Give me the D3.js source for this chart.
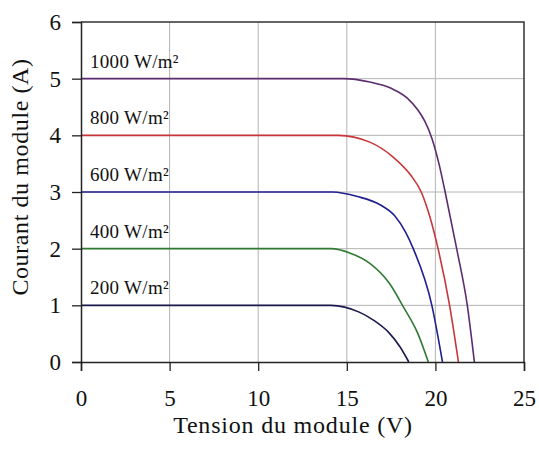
<!DOCTYPE html>
<html>
<head>
<meta charset="utf-8">
<script src="https://cdn.jsdelivr.net/npm/d3@7"></script>
<style>
  html, body { margin: 0; padding: 0; background: #fff; }
  svg { display: block; }
  text { font-family: "Liberation Serif", "Times New Roman", serif; fill: #111; }
</style>
</head>
<body>
<svg id="chart" width="539" height="451"></svg>
<script>
// I–V characteristics of a PV module at several irradiance levels
const irradianceLabels = ["1000 W/m²", "800 W/m²", "600 W/m²", "400 W/m²", "200 W/m²"];
const seriesColors = ["#5b2c6f", "#c8363a", "#1f1f8f", "#2f7a33", "#1a1a4e"];
const shortCircuitCurrent = [5, 4, 3, 2, 1];

// voltage (V) / current (A) pairs per curve
const voltage1000 = [0, 14.8, 16.3, 17.5, 18.4, 19.0, 19.4, 19.8, 20.2, 20.55, 21.2, 21.8, 22.2];
const current1000 = [5, 5, 4.94, 4.83, 4.66, 4.45, 4.25, 3.95, 3.5, 3.0, 2.0, 1.0, 0];
const voltage800 = [0, 14.5, 16.3, 17.6, 18.6, 19.2, 19.7, 20.15, 20.8, 21.3];
const current800 = [4, 4, 3.88, 3.62, 3.3, 3.0, 2.55, 2.0, 1.0, 0];
const voltage600 = [0, 14.2, 15.6, 16.9, 17.7, 18.3, 18.75, 19.8, 20.4];
const current600 = [3, 3, 2.92, 2.77, 2.58, 2.3, 2.0, 1.0, 0];
const voltage400 = [0, 14.1, 15.2, 16.3, 17.4, 18.2, 19.0, 19.6];
const current400 = [2, 2, 1.92, 1.74, 1.39, 0.97, 0.51, 0];
const voltage200 = [0, 14.1, 15.7, 16.5, 17.4, 18.0, 18.5];
const current200 = [1, 1, 0.88, 0.74, 0.51, 0.27, 0];

const xTicks = [0, 5, 10, 15, 20, 25];
const yTicks = [0, 1, 2, 3, 4, 5, 6];

const voltages = [voltage1000, voltage800, voltage600, voltage400, voltage200];
const currents = [current1000, current800, current600, current400, current200];
const series = irradianceLabels.map((label, i) => ({
  label,
  color: seriesColors[i],
  isc: shortCircuitCurrent[i],
  points: voltages[i].map((v, k) => ({ v, a: currents[i][k] }))
}));

const svg = d3.select("#chart");
const margin = { left: 81, right: 15, top: 22, bottom: 89 };
const W = 539, H = 451;
const x = d3.scaleLinear().domain([0, 25]).range([margin.left, W - margin.right]);
const y = d3.scaleLinear().domain([0, 6]).range([H - margin.bottom, margin.top]);

// grid
const grid = svg.append("g");
grid.selectAll("line.vg").data(xTicks.slice(1, -1)).join("line")
  .attr("x1", d => x(d)).attr("x2", d => x(d))
  .attr("y1", y(6)).attr("y2", y(0))
  .attr("stroke", "#b4b4b4").attr("stroke-width", 1);
grid.selectAll("line.hg").data(yTicks.slice(1, -1)).join("line")
  .attr("x1", x(0)).attr("x2", x(25))
  .attr("y1", d => y(d)).attr("y2", d => y(d))
  .attr("stroke", "#b4b4b4").attr("stroke-width", 1);

// frame (top and right)
svg.append("path")
  .attr("d", `M${x(0)},${y(6)}H${x(25)}V${y(0)}`)
  .attr("fill", "none").attr("stroke", "#333").attr("stroke-width", 1.5);

// curves
const line = d3.line().x(d => x(d.v)).y(d => y(d.a)).curve(d3.curveMonotoneX);
svg.append("g").selectAll("path").data(series).join("path")
  .attr("d", d => line(d.points))
  .attr("fill", "none")
  .attr("stroke", d => d.color)
  .attr("stroke-width", 1.6);

// axes
const xAxis = svg.append("g").attr("transform", `translate(0,${y(0)})`)
  .call(d3.axisBottom(x).tickValues(xTicks).tickFormat(d3.format("d")).tickSize(9).tickPadding(19));
const yAxis = svg.append("g").attr("transform", `translate(${x(0)},0)`)
  .call(d3.axisLeft(y).tickValues(yTicks).tickFormat(d3.format("d")).tickSize(9).tickPadding(11));
[xAxis, yAxis].forEach(a => {
  a.select(".domain").attr("stroke", "#222").attr("stroke-width", 1.5);
  a.selectAll(".tick line").attr("stroke", "#222").attr("stroke-width", 1.3);
  a.selectAll(".tick text").attr("font-size", 23)
    .attr("font-family", "'Liberation Serif', 'Times New Roman', serif").attr("fill", "#111");
});

// irradiance labels
svg.append("g").selectAll("text").data(series).join("text")
  .attr("x", x(0) + 9)
  .attr("y", d => y(d.isc) - 11)
  .attr("font-size", 19)
  .attr("letter-spacing", 0.3)
  .text(d => d.label);

// axis titles
svg.append("text")
  .attr("x", 293).attr("y", 433)
  .attr("text-anchor", "middle").attr("font-size", 24)
  .attr("letter-spacing", 0.8)
  .text("Tension du module (V)");
svg.append("text")
  .attr("transform", `translate(28,177) rotate(-90)`)
  .attr("text-anchor", "middle").attr("font-size", 24)
  .attr("letter-spacing", 0.6)
  .text("Courant du module (A)");
</script>
</body>
</html>
